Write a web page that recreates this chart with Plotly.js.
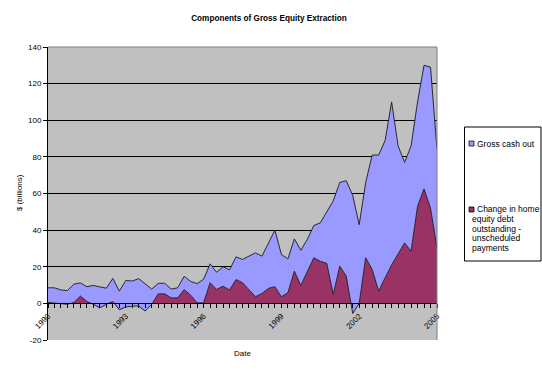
<!DOCTYPE html>
<html>
<head>
<meta charset="utf-8">
<script src="https://cdn.plot.ly/plotly-3.0.1.min.js"></script>
<style>
  html, body { margin: 0; padding: 0; background: #fff; }
  #chart { width: 542px; height: 370px; }
</style>
</head>
<body>
<div id="chart"></div>
<script>
// Quarterly categories
const quarters = [
  "1990 Q1","1990 Q2","1990 Q3","1990 Q4",
  "1991 Q1","1991 Q2","1991 Q3","1991 Q4",
  "1992 Q1","1992 Q2","1992 Q3","1992 Q4",
  "1993 Q1","1993 Q2","1993 Q3","1993 Q4",
  "1994 Q1","1994 Q2","1994 Q3","1994 Q4",
  "1995 Q1","1995 Q2","1995 Q3","1995 Q4",
  "1996 Q1","1996 Q2","1996 Q3","1996 Q4",
  "1997 Q1","1997 Q2","1997 Q3","1997 Q4",
  "1998 Q1","1998 Q2","1998 Q3","1998 Q4",
  "1999 Q1","1999 Q2","1999 Q3","1999 Q4",
  "2000 Q1","2000 Q2","2000 Q3","2000 Q4",
  "2001 Q1","2001 Q2","2001 Q3","2001 Q4",
  "2002 Q1","2002 Q2","2002 Q3","2002 Q4",
  "2003 Q1","2003 Q2","2003 Q3","2003 Q4",
  "2004 Q1","2004 Q2","2004 Q3","2004 Q4",
  "2005 Q1"
];

// Change in home equity debt outstanding - unscheduled payments ($ billions)
const homeEquityChange = [
  0.5, 0.3, -0.3, -0.5, 0.5, 4.0, 1.0, -0.5, -2.5, -0.5,
  1.0, -3.5, -2.0, -1.5, -1.5, -4.2, -0.5, 5.2, 5.2, 3.0,
  3.0, 7.5, 4.5, 0.3, 0.3, 11.3, 7.6, 9.4, 7.3, 13.0,
  11.3, 7.6, 3.6, 5.4, 8.2, 9.1, 3.6, 5.8, 17.6, 9.8,
  17.6, 24.9, 23.0, 21.8, 4.9, 20.3, 14.9, -5.5, 0.0, 24.9,
  18.5, 6.7, 14.0, 21.0, 27.0, 33.0, 28.5, 53.0, 62.5, 52.0,
  30.0
];

// Gross cash out (top of the stacked area, $ billions)
const grossCashOut = [
  8.5, 8.5, 7.3, 7.0, 10.5, 11.2, 9.1, 9.8, 9.0, 8.3,
  13.6, 6.7, 12.5, 12.2, 13.5, 10.4, 7.8, 10.9, 11.0, 7.8,
  8.5, 14.8, 12.0, 10.8, 13.2, 21.6, 17.0, 20.0, 18.3, 25.4,
  24.0, 25.8, 27.6, 25.8, 33.0, 40.0, 26.7, 24.3, 35.2, 29.0,
  35.0, 42.5, 44.0, 50.0, 56.0, 66.0, 67.0, 59.0, 43.0, 66.0,
  81.0, 81.0, 89.0, 110.0, 86.0, 77.0, 86.0, 110.0, 130.0, 129.0,
  84.0
];

const seriesNames = ["Gross cash out", "Change in home equity debt outstanding - unscheduled payments"];
const legendLines2 = ["Change in home", "equity debt", "outstanding -", "unscheduled", "payments"];
const labelYears = ["1990", "1993", "1996", "1999", "2002", "2005"];
const yTicks = [-20, 0, 20, 40, 60, 80, 100, 120, 140];
const yTickLabels = ["-20", "0", "20", "40", "60", "80", "100", "120", "140"];

const blue = "#9999FF";
const plum = "#993366";
const font = "Arial, 'Liberation Sans', sans-serif";

const tickText = quarters.map(q => {
  const [yr, qq] = q.split(" ");
  return (qq === "Q1" && labelYears.includes(yr)) ? yr : "";
});

const traces = [
  {
    x: quarters, y: homeEquityChange, name: seriesNames[1],
    type: "scatter", mode: "lines", fill: "tozeroy",
    fillcolor: plum, line: { color: "#1a1a1a", width: 0.9 },
    hoverinfo: "x+y", showlegend: false
  },
  {
    x: quarters, y: grossCashOut, name: seriesNames[0],
    type: "scatter", mode: "lines", fill: "tonexty",
    fillcolor: blue, line: { color: "#1a1a1a", width: 0.9 },
    hoverinfo: "x+y", showlegend: false
  }
];

// pixel helpers for the legend box
const L = 48, T = 47, W = 389, H = 293;
const px = x => (x - L) / W;
const py = y => (T + H - y) / H;

const legendFont = { family: font, size: 8.5, color: "#000" };
const legendAnnotations = [
  { text: seriesNames[0], xref: "paper", yref: "paper", x: px(475), y: py(143.5),
    xanchor: "left", yanchor: "middle", showarrow: false, font: legendFont }
];
const line2Y = [209.5, 219, 228.7, 238.3, 248];
legendLines2.forEach((t, k) => {
  legendAnnotations.push({
    text: t, xref: "paper", yref: "paper",
    x: px(k === 0 ? 475 : 469.5), y: py(line2Y[k]),
    xanchor: "left", yanchor: "middle", showarrow: false, font: legendFont
  });
});

const layout = {
  width: 542, height: 370,
  margin: { l: L, r: 542 - L - W, t: T, b: 370 - T - H },
  paper_bgcolor: "#FFFFFF",
  plot_bgcolor: "#C0C0C0",
  font: { family: font, size: 8, color: "#000" },
  title: {
    text: "<b>Components of Gross Equity Extraction</b>",
    font: { family: font, size: 8.2, color: "#000" },
    x: 269 / 542, xref: "container", xanchor: "center",
    y: 1 - 18 / 370, yref: "container", yanchor: "middle"
  },
  xaxis: {
    type: "category",
    range: [0, quarters.length - 1],
    tickmode: "array", tickvals: quarters, ticktext: tickText,
    tickangle: -45,
    ticks: "outside", ticklen: 4, tickcolor: "#000", tickwidth: 1,
    showline: true, linecolor: "#000", linewidth: 1,
    showgrid: false, zeroline: false,
    anchor: "free", position: 20 / 160,
    tickfont: { family: font, size: 8, color: "#000" },
    fixedrange: true
  },
  yaxis: {
    range: [-20, 140],
    tickmode: "array", tickvals: yTicks, ticktext: yTickLabels,
    ticks: "outside", ticklen: 4, tickcolor: "#000", tickwidth: 1,
    showline: true, linecolor: "#000", linewidth: 1,
    showgrid: true, gridcolor: "#000", gridwidth: 1,
    zeroline: false,
    tickfont: { family: font, size: 8, color: "#000" },
    fixedrange: true
  },
  shapes: [
    // plot area border (top/right grey)
    { type: "line", xref: "paper", yref: "paper", x0: 0, x1: 1, y0: 1, y1: 1,
      line: { color: "#808080", width: 1 }, layer: "above" },
    { type: "line", xref: "paper", yref: "paper", x0: 1, x1: 1, y0: 0, y1: 1,
      line: { color: "#808080", width: 1 }, layer: "above" },
    // legend box
    { type: "rect", xref: "paper", yref: "paper",
      x0: px(464.5), x1: px(541), y0: py(261), y1: py(127),
      line: { color: "#000", width: 1 }, fillcolor: "#fff", layer: "above" },
    // legend keys
    { type: "rect", xref: "paper", yref: "paper",
      x0: px(469), x1: px(474), y0: py(146), y1: py(141),
      line: { color: "#000", width: 0.75 }, fillcolor: blue, layer: "above" },
    { type: "rect", xref: "paper", yref: "paper",
      x0: px(469), x1: px(474), y0: py(212), y1: py(207),
      line: { color: "#000", width: 0.75 }, fillcolor: plum, layer: "above" }
  ],
  annotations: [
    { text: "Date", xref: "paper", yref: "paper", x: 0.5, y: py(353),
      xanchor: "center", yanchor: "middle", showarrow: false,
      font: { family: font, size: 8, color: "#000" } },
    { text: "$ (billions)", xref: "paper", yref: "paper", x: px(19), y: py(193),
      xanchor: "center", yanchor: "middle", textangle: -90, showarrow: false,
      font: { family: font, size: 8, color: "#000" } }
  ].concat(legendAnnotations),
  showlegend: false
};

Plotly.newPlot("chart", traces, layout, { displayModeBar: false, staticPlot: true });
</script>
</body>
</html>
